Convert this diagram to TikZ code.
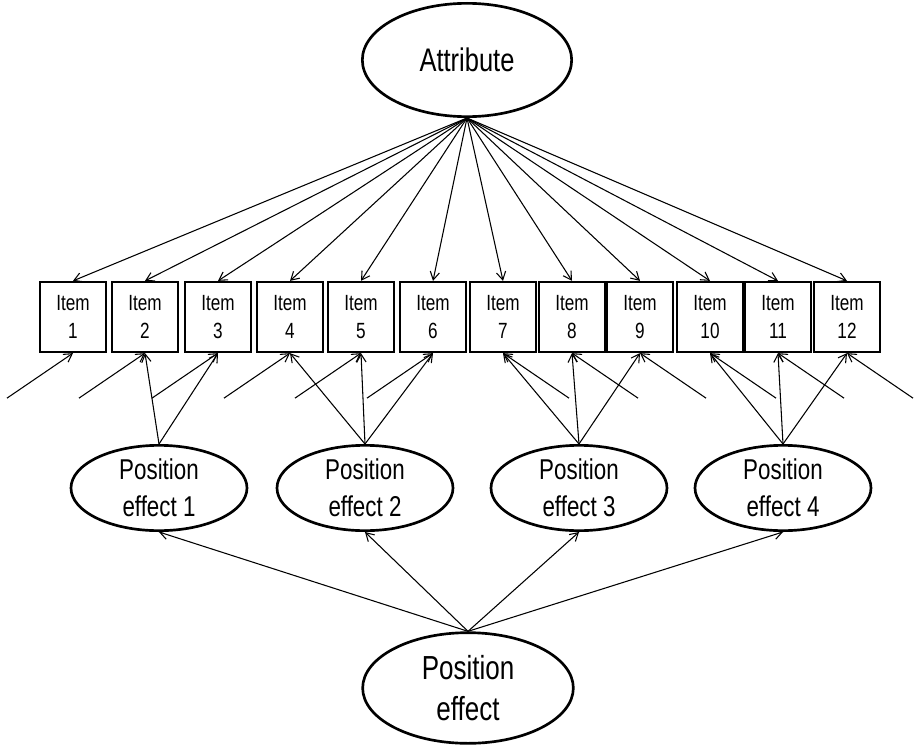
\documentclass[tikz,border=0pt]{standalone}
\usepackage{fontspec}
\setmainfont{Liberation Sans}[FakeStretch=0.78]
\usetikzlibrary{arrows.meta,shapes.geometric,calc}

\begin{document}
\begin{tikzpicture}[x=0.75pt, y=-0.75pt, >={Straight Barb[length=6pt,width=7pt]},
  latent/.style={ellipse, draw, line width=2pt, inner sep=0pt, align=center},
  itembox/.style={draw, line width=1.7pt, minimum width=50pt, minimum height=52.5pt,
    inner sep=0pt, align=center, font=\fontsize{16.5}{21}\selectfont},
  pfad/.style={->, line width=0.8pt}]

\useasboundingbox (0,0) rectangle (914,746);

% latente Variablen
\node[latent, minimum width=157pt, minimum height=85pt,
  font=\fontsize{24.5}{28}\selectfont] (attr) at (467,60) {Attribute};
\node[latent, minimum width=158pt, minimum height=83pt,
  font=\fontsize{25}{31}\selectfont] (pos) at (468,688) {Position\\effect};

\foreach \j/\x in {1/159,2/365,3/579,4/783} {
  \node[latent, minimum width=132pt, minimum height=64pt,
    font=\fontsize{21.5}{27.5}\selectfont] (pe\j) at (\x,488) {Position\\effect \j};
}

% Items
\foreach \i/\x in {1/73,2/145,3/218,4/290,5/361,6/433,7/503,8/572,9/640,10/710,11/778,12/847} {
  \node[itembox] (item\i) at (\x,317) {Item\\\i};
  \draw[pfad] (attr.south) -- (item\i.north);
}

% Fehlerterme
\foreach \i in {1,...,6} {
  \coordinate (e\i) at ($(item\i.south)+(-66,45)$);
  \draw[pfad] (e\i) -- (item\i.south);
}
\foreach \i in {7,...,12} {
  \coordinate (e\i) at ($(item\i.south)+(66,45)$);
  \draw[pfad] (e\i) -- (item\i.south);
}

% Positionseffekte
\foreach \i in {2,3} \draw[pfad] (pe1.north) -- (item\i.south);
\foreach \i in {4,5,6} \draw[pfad] (pe2.north) -- (item\i.south);
\foreach \i in {7,8,9} \draw[pfad] (pe3.north) -- (item\i.south);
\foreach \i in {10,11,12} \draw[pfad] (pe4.north) -- (item\i.south);

\foreach \j in {1,...,4} \draw[pfad] (pos.north) -- (pe\j.south);

\end{tikzpicture}
\end{document}
